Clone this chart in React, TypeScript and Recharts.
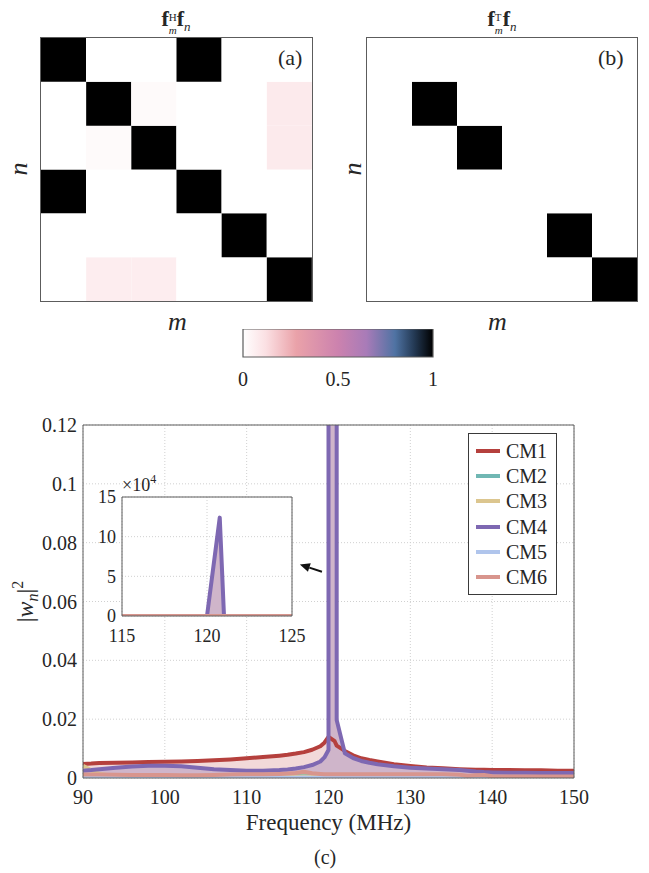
import React from "react";
import {
  Area,
  Bar,
  BarChart,
  CartesianGrid,
  Cell,
  ComposedChart,
  Legend,
  Line,
  ReferenceLine,
  XAxis,
  YAxis,
} from "recharts";

const SERIF = "Liberation Serif, Tinos, DejaVu Serif, serif";
const INK = "#262626";
const FRAME = "#5c5c5c";
const GRID = "#d0d0d0";

// ---- panels (a) and (b): 6x6 inner products, rows = n (top to bottom), cols = m
const MODES = [1, 2, 3, 4, 5, 6];
const MAT_A = [
  [1, 0, 0, 1, 0, 0],
  [0, 1, 0.02, 0, 0, 0.08],
  [0, 0.02, 1, 0, 0, 0.08],
  [1, 0, 0, 1, 0, 0],
  [0, 0, 0, 0, 1, 0],
  [0, 0.07, 0.07, 0, 0, 1],
];
const MAT_B = [
  [0, 0, 0, 0, 0, 0],
  [0, 1, 0, 0, 0, 0],
  [0, 0, 1, 0, 0, 0],
  [0, 0, 0, 0, 0, 0],
  [0, 0, 0, 0, 1, 0],
  [0, 0, 0, 0, 0, 1],
];

const CBAR_TICKS = [0, 0.5, 1];
const CMAP: [number, string][] = [
  [0, "#ffffff"],
  [0.12, "#fbe0e3"],
  [0.28, "#eaa2a9"],
  [0.5, "#cc82ae"],
  [0.65, "#a87bb8"],
  [0.8, "#4f73a3"],
  [0.9, "#243a55"],
  [1, "#000000"],
];

// ---- panel (c): modal weights vs frequency
const FREQ = [90, 91, 92, 94, 96, 98, 100, 102, 104, 106, 108, 110, 112, 114, 115, 116, 117, 118, 119, 119.5, 120, 120.75, 121, 122, 123, 124, 125, 126, 128, 130, 132, 134, 136, 137, 138, 139, 140, 142, 144, 146, 148, 150];
const CM1 = [0.0048, 0.0049, 0.0051, 0.0052, 0.0053, 0.0054, 0.0055, 0.0056, 0.0058, 0.006, 0.0063, 0.0067, 0.0071, 0.0076, 0.0079, 0.0083, 0.0088, 0.0096, 0.0108, 0.012, 0.014, 0.0125, 0.011, 0.0092, 0.0077, 0.0067, 0.0061, 0.0056, 0.0047, 0.0041, 0.0036, 0.0033, 0.003, 0.0029, 0.0028, 0.0028, 0.0027, 0.0027, 0.0026, 0.0026, 0.0025, 0.0025];
const CM2 = [0.0003, 0.0003, 0.0003, 0.0003, 0.0003, 0.0003, 0.0003, 0.0003, 0.0003, 0.0003, 0.0003, 0.0003, 0.0003, 0.0003, 0.0004, 0.0007, 0.0014, 0.0006, 0.0003, 0.0003, 0.0003, 0.0003, 0.0003, 0.0003, 0.0003, 0.0003, 0.0003, 0.0003, 0.0003, 0.0003, 0.0003, 0.0003, 0.0003, 0.0003, 0.0004, 0.0003, 0.0003, 0.0003, 0.0003, 0.0003, 0.0003, 0.0003];
const CM3 = [0.0042, 0.0026, 0.0014, 0.0007, 0.0005, 0.0004, 0.0004, 0.0004, 0.0004, 0.0004, 0.0004, 0.0004, 0.0004, 0.0004, 0.0004, 0.0004, 0.0005, 0.0004, 0.0004, 0.0004, 0.0004, 0.0004, 0.0004, 0.0004, 0.0004, 0.0004, 0.0004, 0.0004, 0.0004, 0.0004, 0.0004, 0.0004, 0.0004, 0.0004, 0.0004, 0.0004, 0.0003, 0.0003, 0.0003, 0.0003, 0.0003, 0.0003];
const CM4 = [0.0025, 0.0027, 0.003, 0.0035, 0.0039, 0.0042, 0.0042, 0.004, 0.0035, 0.003, 0.0027, 0.0025, 0.0025, 0.0027, 0.0029, 0.0032, 0.0037, 0.0044, 0.0056, 0.007, 0.0095, 124000, 0.0197, 0.0084, 0.0068, 0.0058, 0.0052, 0.0047, 0.004, 0.0035, 0.0032, 0.003, 0.0027, 0.0025, 0.0022, 0.002, 0.0019, 0.0018, 0.0018, 0.0017, 0.0017, 0.0017];
const CM5 = [0.0001, 0.0001, 0.0001, 0.0001, 0.0001, 0.0001, 0.0001, 0.0001, 0.0001, 0.0001, 0.0001, 0.0001, 0.0001, 0.0001, 0.0001, 0.0001, 0.0002, 0.0001, 0.0001, 0.0001, 0.0001, 0.0001, 0.0001, 0.0001, 0.0001, 0.0001, 0.0001, 0.0001, 0.0002, 0.0003, 0.0003, 0.0003, 0.0003, 0.0003, 0.0002, 0.0002, 0.0001, 0.0001, 0.0001, 0.0001, 0.0001, 0.0001];
const CM6 = [0.0012, 0.0012, 0.0012, 0.0011, 0.001, 0.001, 0.001, 0.0009, 0.0009, 0.001, 0.0012, 0.0013, 0.0013, 0.0014, 0.0015, 0.0017, 0.0021, 0.0016, 0.0014, 0.0013, 0.0013, 0.0013, 0.0013, 0.0013, 0.0013, 0.0013, 0.0013, 0.0013, 0.0013, 0.0013, 0.0013, 0.0013, 0.0011, 0.0008, 0.0009, 0.001, 0.0006, 0.0005, 0.0005, 0.0005, 0.0005, 0.0005];

const MAIN_X_TICKS = [90, 100, 110, 120, 130, 140, 150];
const MAIN_Y_TICKS = [0, 0.02, 0.04, 0.06, 0.08, 0.1, 0.12];
const INSET_X_TICKS = [115, 120, 125];
const INSET_Y_TICKS = [0, 50000, 100000, 150000];
const ARROW = [
  { x: 119.2, y: 0.0701 },
  { x: 116.5, y: 0.0726 },
];

const SERIES = [
  { key: "cm1", name: "CM1", color: "#b5403d", values: CM1 },
  { key: "cm2", name: "CM2", color: "#70b7b3", values: CM2 },
  { key: "cm3", name: "CM3", color: "#dcc68f", values: CM3 },
  { key: "cm4", name: "CM4", color: "#7e68b2", values: CM4 },
  { key: "cm5", name: "CM5", color: "#b0c5ec", values: CM5 },
  { key: "cm6", name: "CM6", color: "#d8958d", values: CM6 },
];
const FILLS: Record<string, string> = { cm1: "#f2d9d9", cm4: "#cfb5ca" };

const ROWS = FREQ.map((f, i) => {
  const row: Record<string, number> = { f };
  SERIES.forEach((s) => (row[s.key] = s.values[i]));
  return row;
});

function hex(c: string) {
  return [1, 3, 5].map((i) => parseInt(c.slice(i, i + 2), 16));
}

function cmap(v: number) {
  for (let i = 1; i < CMAP.length; i++) {
    const [o1, c1] = CMAP[i];
    const [o0, c0] = CMAP[i - 1];
    if (v <= o1) {
      const t = (v - o0) / (o1 - o0);
      const a = hex(c0);
      const b = hex(c1);
      const m = a.map((x, k) => Math.round(x + (b[k] - x) * t));
      return `rgb(${m[0]},${m[1]},${m[2]})`;
    }
  }
  return CMAP[CMAP.length - 1][1];
}

const tickStyle = (size: number) => ({ fontSize: size, fill: INK, fontFamily: SERIF });

function Heatmap({ mat, left, width }: { mat: number[][]; left: number; width: number }) {
  const data = MODES.map((m) => {
    const row: Record<string, number> = { m };
    MODES.forEach((n) => (row[`n${n}`] = 1));
    return row;
  });
  return (
    <div style={{ position: "absolute", left, top: 38, width, height: 263, outline: `1.3px solid ${FRAME}` }}>
      <BarChart width={width} height={263} data={data} margin={{ top: 0, right: 0, bottom: 0, left: 0 }} barCategoryGap={0} barGap={0}>
        <XAxis dataKey="m" hide />
        <YAxis hide domain={[0, 6]} />
        {[...MODES].reverse().map((n) => (
          <Bar key={n} dataKey={`n${n}`} stackId="cells" isAnimationActive={false}>
            {MODES.map((m) => (
              <Cell key={m} fill={cmap(mat[n - 1][m - 1])} />
            ))}
          </Bar>
        ))}
      </BarChart>
    </div>
  );
}

function Gram({ sup, left }: { sup: string; left: number }) {
  return (
    <div style={{ position: "absolute", left: left - 40, top: 4, width: 80, textAlign: "center", fontSize: 22, lineHeight: "30px", color: INK }}>
      <b>f</b>
      <span style={{ display: "inline-block", verticalAlign: "-8px", fontSize: 11, lineHeight: "13px", textAlign: "left" }}>
        <span style={{ display: "block" }}>{sup}</span>
        <span style={{ display: "block", fontStyle: "italic" }}>m</span>
      </span>
      <b>f</b>
      <span style={{ fontSize: 13, fontStyle: "italic", verticalAlign: "-5px" }}>n</span>
    </div>
  );
}

function Colorbar() {
  return (
    <div style={{ position: "absolute", left: 223, top: 329 }}>
      <BarChart width={230} height={66} data={[{ name: "cb", v: 1 }]} layout="vertical" margin={{ top: 0, right: 20, bottom: 0, left: 20 }} barCategoryGap={0}>
        <defs>
          <linearGradient id="cbGrad" x1="0" y1="0" x2="1" y2="0">
            {CMAP.map(([o, c]) => (
              <stop key={o} offset={o} stopColor={c} />
            ))}
          </linearGradient>
        </defs>
        <XAxis type="number" domain={[0, 1]} ticks={CBAR_TICKS} axisLine={false} tickLine={false} tickMargin={9} height={38} tick={tickStyle(20)} />
        <YAxis type="category" dataKey="name" hide />
        <Bar dataKey="v" fill="url(#cbGrad)" stroke={FRAME} strokeWidth={1.2} isAnimationActive={false} />
      </BarChart>
    </div>
  );
}

function frameAxes(id: string, xDomain: number[], xTicks: number[], yDomain: number[], yTicks: number[]) {
  const common = { tick: false as const, tickSize: 5, tickLine: { stroke: FRAME }, axisLine: { stroke: FRAME }, mirror: true, allowDataOverflow: true };
  return [
    <XAxis key={id + "t"} xAxisId={id + "t"} orientation="top" type="number" dataKey="f" domain={xDomain} ticks={xTicks} {...common} />,
    <XAxis key={id + "b"} xAxisId={id + "b"} orientation="bottom" type="number" dataKey="f" domain={xDomain} ticks={xTicks} {...common} axisLine={false} />,
    <YAxis key={id + "l"} yAxisId={id + "l"} orientation="left" type="number" domain={yDomain} ticks={yTicks} {...common} axisLine={false} />,
    <YAxis key={id + "r"} yAxisId={id + "r"} orientation="right" type="number" domain={yDomain} ticks={yTicks} {...common} />,
  ];
}

function WnLabel(props: any) {
  const vb = props.viewBox || { x: 0, y: 0, width: 0, height: 0 };
  const cx = vb.x + 33;
  const cy = vb.y + vb.height / 2;
  return (
    <text x={cx} y={cy} transform={`rotate(-90 ${cx} ${cy})`} textAnchor="middle" fontFamily={SERIF} fontSize={24} fill={INK}>
      |<tspan fontStyle="italic">w</tspan>
      <tspan fontStyle="italic" fontSize={16} dy={5}>n</tspan>
      <tspan dy={-5}>|</tspan>
      <tspan fontSize={16} dy={-10}>2</tspan>
    </text>
  );
}

function ExpLabel(props: any) {
  const vb = props.viewBox || { x: 0, y: 0, width: 0, height: 0 };
  return (
    <text x={vb.x + vb.width} y={vb.y - 6} fontFamily={SERIF} fontSize={18} fill={INK}>
      ×10<tspan fontSize={12} dy={-8}>4</tspan>
    </text>
  );
}

function ArrowShape(props: any) {
  const { x1, y1, x2, y2 } = props;
  const a = Math.atan2(y2 - y1, x2 - x1);
  const len = 10;
  const half = 4.5;
  const bx = x2 - len * Math.cos(a);
  const by = y2 - len * Math.sin(a);
  const pts = `${x2},${y2} ${bx + half * Math.sin(a)},${by - half * Math.cos(a)} ${bx - half * Math.sin(a)},${by + half * Math.cos(a)}`;
  return (
    <g>
      <line x1={x1} y1={y1} x2={bx} y2={by} stroke="#111" strokeWidth={2} />
      <polygon points={pts} fill="#111" />
    </g>
  );
}

function LegendBox() {
  return (
    <div style={{ border: "1px solid #3a3a3a", background: "#fff", padding: "4px 0", width: 89, boxSizing: "border-box", fontFamily: SERIF }}>
      {SERIES.map((s) => (
        <div key={s.key} style={{ display: "flex", alignItems: "center", height: 25.3 }}>
          <span style={{ width: 24, height: 4, background: s.color, marginLeft: 7, marginRight: 6 }} />
          <span style={{ fontSize: 20, color: INK, lineHeight: 1 }}>{s.name}</span>
        </div>
      ))}
    </div>
  );
}

function seriesMarks() {
  return [
    ...["cm1", "cm4"].map((k) => (
      <Area key={"a" + k} dataKey={k} type="linear" stroke="none" fill={FILLS[k]} fillOpacity={1} isAnimationActive={false} legendType="none" />
    )),
    ...SERIES.map((s) => (
      <Line key={s.key} dataKey={s.key} type="linear" stroke={s.color} strokeWidth={4} strokeLinejoin="round" dot={false} activeDot={false} isAnimationActive={false} />
    )),
  ];
}

function MainChart() {
  return (
    <div style={{ position: "absolute", left: 0, top: 400 }}>
      <ComposedChart width={649} height={448} data={ROWS} margin={{ top: 25, right: 75, bottom: 10, left: 0 }}>
        <CartesianGrid stroke={GRID} strokeDasharray="1 2" />
        <XAxis
          dataKey="f"
          type="number"
          domain={[90, 150]}
          ticks={MAIN_X_TICKS}
          allowDataOverflow
          height={60}
          tickLine={false}
          tickMargin={6}
          axisLine={{ stroke: FRAME }}
          tick={tickStyle(20)}
          label={{ value: "Frequency (MHz)", position: "insideBottom", offset: 8, fontSize: 23, fill: INK, fontFamily: SERIF }}
        />
        <YAxis
          type="number"
          domain={[0, 0.12]}
          ticks={MAIN_Y_TICKS}
          allowDataOverflow
          width={83}
          tickLine={false}
          tickSize={4}
          tickMargin={2}
          axisLine={{ stroke: FRAME }}
          tick={tickStyle(20)}
          tickFormatter={(v: number) => String(v)}
          label={<WnLabel />}
        />
        {frameAxes("m", [90, 150], MAIN_X_TICKS, [0, 0.12], MAIN_Y_TICKS)}
        {seriesMarks()}
        <ReferenceLine segment={ARROW} shape={ArrowShape} />
        <Legend layout="vertical" align="center" verticalAlign="middle" wrapperStyle={{ left: 468, top: 33, width: 89 }} content={() => <LegendBox />} />
      </ComposedChart>
    </div>
  );
}

function InsetChart() {
  return (
    <div style={{ position: "absolute", left: 92, top: 470 }}>
      <ComposedChart width={216} height={178} data={ROWS} margin={{ top: 27, right: 16, bottom: 0, left: 0 }}>
        <CartesianGrid stroke={GRID} strokeDasharray="1 2" fill="#ffffff" fillOpacity={1} />
        <XAxis
          dataKey="f"
          type="number"
          domain={[115, 125]}
          ticks={INSET_X_TICKS}
          allowDataOverflow
          height={32}
          tickLine={false}
          tickMargin={7}
          axisLine={{ stroke: FRAME }}
          tick={tickStyle(18)}
        />
        <YAxis
          type="number"
          domain={[0, 150000]}
          ticks={INSET_Y_TICKS}
          allowDataOverflow
          width={30}
          tickLine={false}
          tickSize={4}
          tickMargin={2}
          axisLine={{ stroke: FRAME }}
          tick={tickStyle(18)}
          tickFormatter={(v: number) => String(v / 10000)}
          label={<ExpLabel />}
        />
        {frameAxes("i", [115, 125], INSET_X_TICKS, [0, 150000], INSET_Y_TICKS)}
        {seriesMarks()}
      </ComposedChart>
    </div>
  );
}

const textBox = (left: number, top: number, size: number, extra: React.CSSProperties = {}): React.CSSProperties => ({
  position: "absolute",
  left,
  top,
  fontSize: size,
  color: INK,
  lineHeight: 1,
  ...extra,
});

export default function App() {
  return (
    <div style={{ position: "absolute", left: 0, top: 0, width: 649, height: 873, background: "#fff", fontFamily: SERIF }}>
      <Gram sup="H" left={176} />
      <Gram sup="T" left={502} />
      <Heatmap mat={MAT_A} left={41} width={271} />
      <Heatmap mat={MAT_B} left={367} width={270} />
      <div style={textBox(278, 47, 22)}>(a)</div>
      <div style={textBox(598, 47, 22)}>(b)</div>
      <div style={textBox(12, 156, 26, { fontStyle: "italic", transform: "rotate(-90deg)" })}>n</div>
      <div style={textBox(346, 156, 26, { fontStyle: "italic", transform: "rotate(-90deg)" })}>n</div>
      <div style={textBox(168, 309, 26, { fontStyle: "italic" })}>m</div>
      <div style={textBox(488, 309, 26, { fontStyle: "italic" })}>m</div>
      <Colorbar />
      <MainChart />
      <InsetChart />
      <div style={textBox(314, 847, 20)}>(c)</div>
    </div>
  );
}
